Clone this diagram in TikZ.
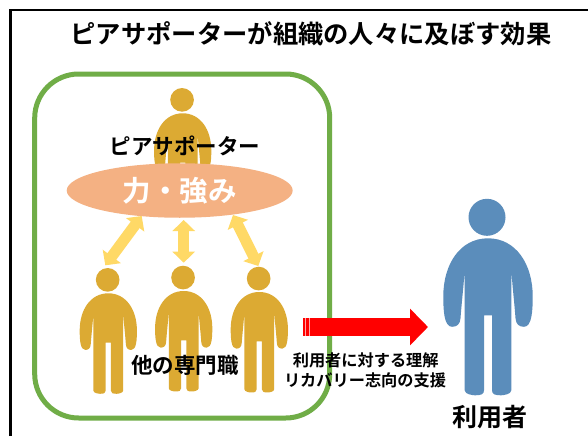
\documentclass[tikz,border=0pt]{standalone}
\usepackage{fontspec}
\setmainfont{Noto Sans CJK JP}[BoldFont={Noto Sans CJK JP Bold}]
\usetikzlibrary{arrows.meta,shapes.geometric}
\definecolor{gold}{HTML}{DCAA33}
\definecolor{steel}{HTML}{5B8DBB}
\definecolor{leaf}{HTML}{70AD47}
\definecolor{salmon}{HTML}{F4B183}
\definecolor{butter}{HTML}{FFD966}
\tikzset{
  person/.pic={
    \fill[pic actions] (-1,-21) circle (18.5);
    \fill[pic actions] (0,0)
      .. controls (28,0) and (44.7,26) .. (44.7,58)
      .. controls (44.7,72) and (44,88.5) .. (36,88.5)
      .. controls (31,88.5) and (28,86) .. (27.5,80)
      .. controls (26,60) and (24,45) .. (23.3,30)
      -- (23.3,152)
      .. controls (23.3,156) and (15,157) .. (13,157)
      .. controls (7,157) and (4,156) .. (4,152)
      -- (4,77) -- (-4,77) -- (-4,152)
      .. controls (-4,156) and (-7,157) .. (-13,157)
      .. controls (-15,157) and (-23.3,156) .. (-23.3,152)
      -- (-23.3,30)
      .. controls (-24,45) and (-26,60) .. (-27.5,80)
      .. controls (-28,86) and (-31,88.5) .. (-36,88.5)
      .. controls (-44,88.5) and (-44.7,72) .. (-44.7,58)
      .. controls (-44.7,26) and (-28,0) .. (0,0) -- cycle;
  },
  golden/.style={fill=gold, scale=0.64},
  blue/.style={fill=steel},
  lbl/.style={font=\bfseries\fontsize{#1}{#1}\selectfont, text=black, inner sep=0pt},
  twoway/.style={draw=butter, line width=11pt,
    {Triangle[width=22pt,length=11pt,fill=butter]}-{Triangle[width=22pt,length=11pt,fill=butter]}},
}
\begin{document}
\begin{tikzpicture}[x=1pt,y=-1pt]
\useasboundingbox (0,0) rectangle (588,436);
\fill[white] (0,0) rectangle (588,436);
\draw[black,line width=2.3pt] (10.5,436) -- (10.5,10) -- (588,10);
\node[lbl=25.3] (title) at (311,34) {ピアサポーターが組織の人々に及ぼす効果};
\draw[leaf,line width=5pt,rounded corners=44pt] (34.7,74) rectangle (329.7,418);
\pic[golden] at (182.7,113.3) {person};
\pic[golden] at (108.3,293.3) {person};
\pic[golden] at (183.7,291) {person};
\pic[golden] at (259.3,292) {person};
\pic[blue] at (488,238.3) {person};
\node[lbl=21.5] (peer) at (185,146) {ピアサポーター};
\node[fill=salmon,ellipse,minimum width=226pt,minimum height=54.5pt,inner sep=0pt,
  font=\bfseries\fontsize{28.5}{28.5}\selectfont,text=white] (power) at (179.7,190.5) {力・強み};
\coordinate (aT) at (141.7,216); \coordinate (aB) at (105.3,265.3);
\coordinate (bT) at (183.7,220); \coordinate (bB) at (183.7,262.7);
\coordinate (cT) at (233,215);   \coordinate (cB) at (258.3,266);
\draw[twoway] (aT) -- (aB);
\draw[twoway] (bT) -- (bB);
\draw[twoway] (cT) -- (cB);
\coordinate (rS) at (303,327); \coordinate (rE) at (428,327);
\draw[red,line width=17.7pt,-{Triangle[width=35.7pt,length=18pt,fill=red]}] (rS) -- (rE);
\draw[red!35,line width=.8pt] (305.5,318.3) -- (305.5,336) (309,318.3) -- (309,336);
\node[lbl=21.5] (other) at (185,365.5) {他の専門職};
\node[lbl=16.2] (t1) at (365.7,360) {利用者に対する理解};
\node[lbl=16.2] (t2) at (365,380) {リカバリー志向の支援};
\node[lbl=25] (user) at (489.7,417) {利用者};
\end{tikzpicture}
\end{document}
